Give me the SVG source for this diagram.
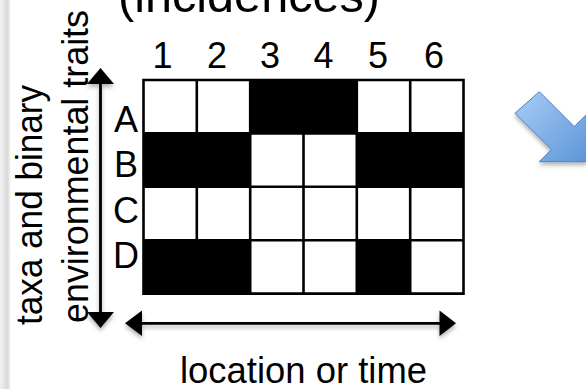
<svg xmlns="http://www.w3.org/2000/svg" width="586" height="389" viewBox="0 0 586 389">
<style>
.t{font-family:"Liberation Sans",Arial,sans-serif;fill:#000}
.lbl{font-size:36px}
.blk{fill:#000}
.grid{fill:none;stroke:#000;stroke-width:2.6}
.ax{stroke:#000;stroke-width:2.8;fill:none}
.head{fill:#000}
</style>
<defs>
<linearGradient id="edge" x1="0" y1="0" x2="1" y2="0">
<stop offset="0" stop-color="#f2f2f2"/>
<stop offset="0.7" stop-color="#d9d9d9"/>
<stop offset="1" stop-color="#ffffff"/>
</linearGradient>
<linearGradient id="blue" x1="0" y1="0" x2="1" y2="1">
<stop offset="0" stop-color="#a9cdf6"/>
<stop offset="1" stop-color="#5d96d8"/>
</linearGradient>
<filter id="sh" x="-20%" y="-20%" width="140%" height="150%">
<feDropShadow dx="0" dy="3" stdDeviation="2" flood-color="#000" flood-opacity="0.3"/>
</filter>
</defs>
<rect width="586" height="389" fill="#fff"/>
<rect x="0" y="0" width="11" height="389" fill="url(#edge)"/>

<g id="title">
<text class="t" x="118" y="12" font-size="48.6">(incidences)</text>
</g>

<g id="axis-labels">
<text class="t lbl" transform="translate(42,325) rotate(-90)" textLength="240" lengthAdjust="spacingAndGlyphs">taxa and binary</text>
<text class="t lbl" transform="translate(87.5,323) rotate(-90)" textLength="313" lengthAdjust="spacingAndGlyphs">environmental traits</text>
<text class="t lbl" x="303.5" y="382.7" text-anchor="middle" textLength="247" lengthAdjust="spacingAndGlyphs">location or time</text>
</g>

<g id="column-labels" class="t lbl" text-anchor="middle">
<text x="162.5" y="68">1</text>
<text x="217" y="68">2</text>
<text x="270" y="68">3</text>
<text x="323.5" y="68">4</text>
<text x="378" y="68">5</text>
<text x="434" y="68">6</text>
</g>

<g id="row-labels" class="t lbl" text-anchor="middle">
<text x="126" y="132">A</text>
<text x="126" y="177">B</text>
<text x="126" y="223">C</text>
<text x="126" y="267.5">D</text>
</g>

<g id="matrix">
<rect x="143.5" y="80" width="320" height="213.6" fill="#fff"/>
<rect class="blk" x="250.2" y="80" width="106.6" height="53.4"/>
<rect class="blk" x="143.5" y="133.4" width="106.7" height="53.4"/>
<rect class="blk" x="356.8" y="133.4" width="106.7" height="53.4"/>
<rect class="blk" x="143.5" y="240.2" width="106.7" height="53.4"/>
<rect class="blk" x="356.8" y="240.2" width="53.4" height="53.4"/>
<path class="grid" d="M143.5 80H463.5V293.6H143.5Z M196.8 80V293.6 M250.2 80V293.6 M303.5 80V293.6 M356.8 80V293.6 M410.2 80V293.6 M143.5 133.4H463.5 M143.5 186.8H463.5 M143.5 240.2H463.5"/>
</g>

<g id="connectors">
<g filter="url(#sh)">
<line class="ax" x1="100.5" y1="82" x2="100.5" y2="314"/>
<polygon class="head" points="100.5,68 114,84 87,84"/>
<polygon class="head" points="100.5,328 114,312 87,312"/>
<line class="ax" x1="140" y1="323.3" x2="442" y2="323.3"/>
<polygon class="head" points="125,323.3 142,310.5 142,336"/>
<polygon class="head" points="456,323.3 439.5,310.5 439.5,336"/>
</g>
</g>

<g id="blue-arrow" filter="url(#sh)">
<polygon points="539.3,91.7 574.3,126.7 586.4,114.6 586.4,161.7 539.3,161.7 551.4,149.7 515,113.3" fill="url(#blue)" stroke="#4f7fc0" stroke-width="1"/>
</g>
</svg>
